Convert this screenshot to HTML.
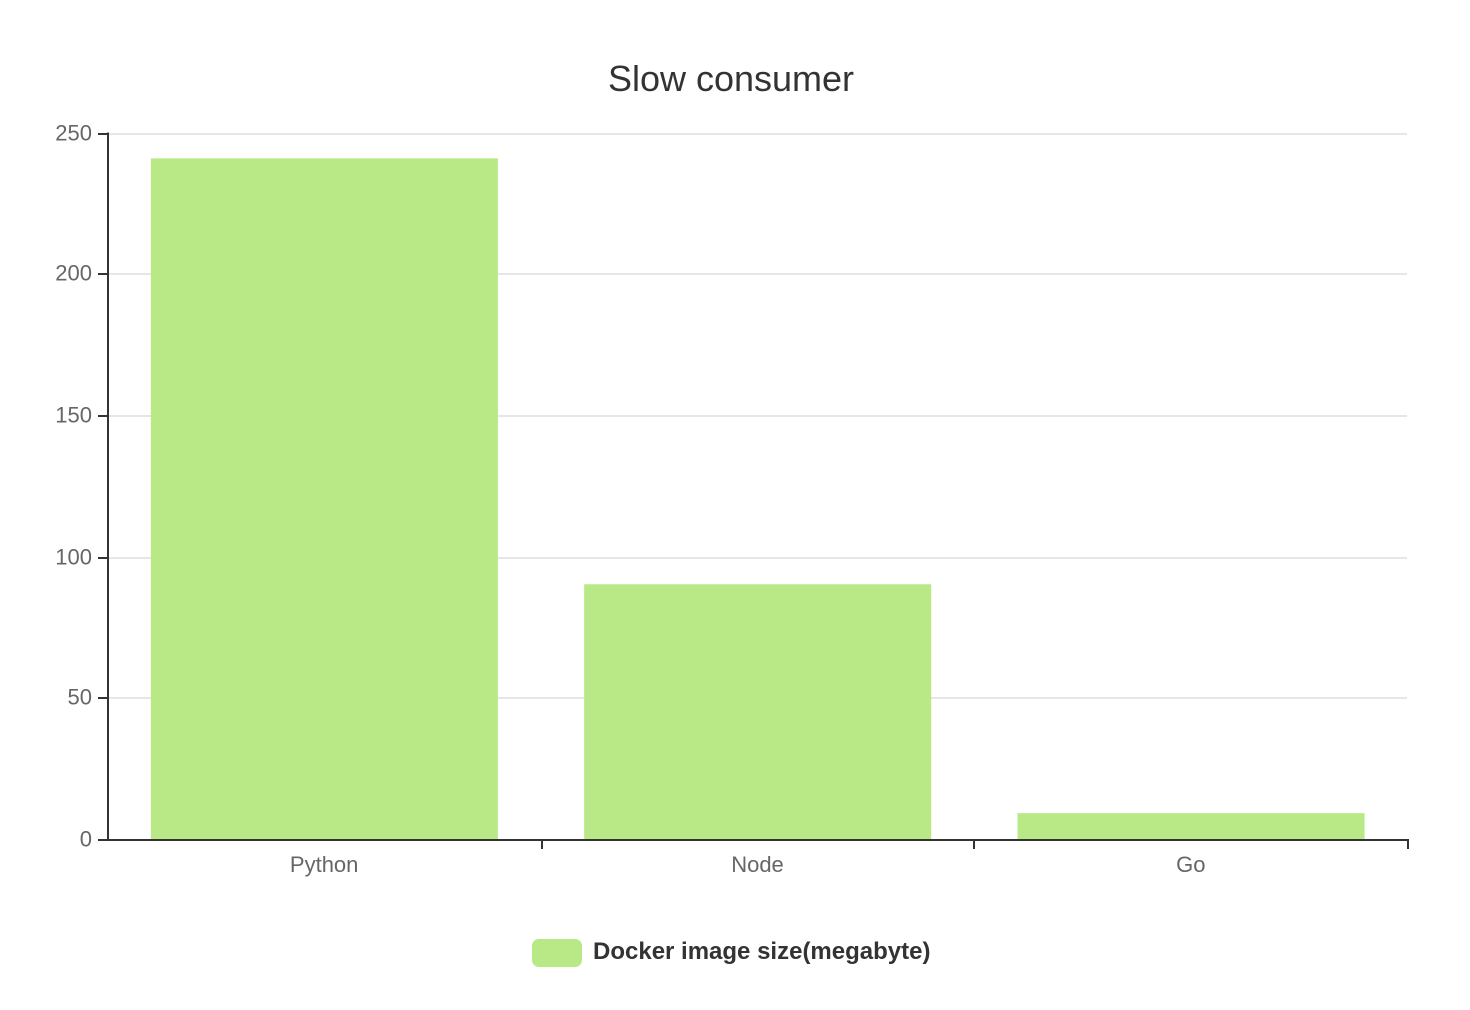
<!DOCTYPE html>
<html lang="en">
<head>
<meta charset="utf-8">
<title>Slow consumer</title>
<style>
  html, body { margin: 0; padding: 0; background: #fff; }
  svg { display: block; font-family: "Liberation Sans", sans-serif; }
</style>
</head>
<body>
<svg id="chart" width="1470" height="1010" viewBox="0 0 1470 1010" xmlns="http://www.w3.org/2000/svg">
  <rect x="0" y="0" width="1470" height="1010" fill="#ffffff"/>
  <text x="731" y="91" text-anchor="middle" font-size="36" fill="#333333">Slow consumer</text>
  <g id="grid"></g>
  <g id="bars"></g>
  <g id="axes"></g>
  <g>
    <rect x="532" y="939" width="50" height="28" rx="7" ry="7" fill="#b8e986"/>
    <text x="593" y="959" font-size="24" font-weight="bold" fill="#333333">Docker image size(megabyte)</text>
  </g>
</svg>
<script>
const categories = ["Python", "Node", "Go"];
const sizeValues = [241.2, 90.5, 9.5];
const yTicks = [0, 50, 100, 150, 200, 250];

const NS = "http://www.w3.org/2000/svg";
const plotLeft = 108, plotRight = 1408, plotTop = 133.5, plotBottom = 840;
const yMax = yTicks[yTicks.length - 1];
const yScale = v => plotBottom - (v / yMax) * (plotBottom - plotTop);
const snap = p => 2 * Math.round(p / 2);
const bandWidth = (plotRight - plotLeft) / categories.length;
const bandLeft = i => plotLeft + i * bandWidth;

function make(tag, attrs, parent, text) {
  const el = document.createElementNS(NS, tag);
  for (const k in attrs) el.setAttribute(k, attrs[k]);
  if (text !== undefined) el.textContent = text;
  parent.appendChild(el);
  return el;
}

const grid = document.getElementById("grid");
const bars = document.getElementById("bars");
const axes = document.getElementById("axes");

yTicks.forEach(t => {
  const y = snap(yScale(t));
  if (t !== 0) {
    const g = make("line", { x1: plotLeft, x2: plotRight - 1, y1: y, y2: y, stroke: "#e6e6e6", "stroke-width": 2 }, grid);
    
    
  }
  const tick = make("line", { x1: plotLeft - 10, x2: plotLeft, y1: y, y2: y, stroke: "#333333", "stroke-width": 2 }, axes);
  
  
  const label = make("text", { x: plotLeft - 16, y: y + 6.5, "text-anchor": "end", "font-size": 22, fill: "#666666" }, axes, String(t));
  
  
});

categories.forEach((c, i) => {
  const w = bandWidth * 0.8 + 0.4;
  const x = bandLeft(i) + bandWidth * 0.1 - 0.5;
  const top = yScale(sizeValues[i]);
  const bar = make("rect", { x: x, y: top, width: w, height: plotBottom - top, fill: "#b8e986" }, bars);
  
  
  const label = make("text", { x: bandLeft(i) + bandWidth / 2 - 0.5, y: 872, "text-anchor": "middle", "font-size": 22, fill: "#666666" }, axes, c);
  
  
});

for (let i = 1; i <= categories.length; i++) {
  const x = snap(bandLeft(i));
  const tick = make("line", { x1: x, x2: x, y1: plotBottom, y2: plotBottom + 9, stroke: "#333333", "stroke-width": 2 }, axes);
  
  
}

const yAxisLine = make("line", { x1: plotLeft, x2: plotLeft, y1: plotTop - 1, y2: plotBottom + 1, stroke: "#333333", "stroke-width": 2 }, axes);



const xAxisLine = make("line", { x1: plotLeft - 10, x2: plotRight + 1, y1: plotBottom, y2: plotBottom, stroke: "#333333", "stroke-width": 2 }, axes);


</script>
</body>
</html>
